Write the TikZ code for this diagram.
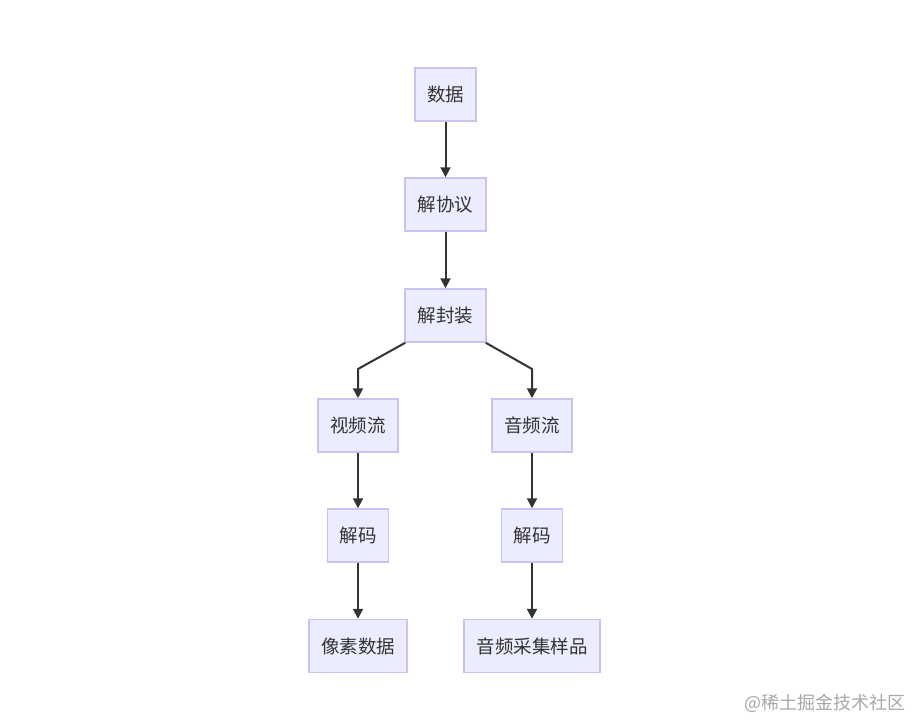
\documentclass[tikz,border=0pt]{standalone}
\usepackage{fontspec}
\setmainfont{Noto Sans CJK SC}
\newfontfamily\cjk{Noto Sans CJK SC}
\usetikzlibrary{arrows.meta}
\definecolor{boxfill}{HTML}{ECECFF}
\definecolor{boxline}{HTML}{C9C3F0}
\definecolor{arrowc}{HTML}{333333}
\definecolor{txt}{HTML}{333333}
\definecolor{wm}{HTML}{A8A8A8}
\tikzset{
  box/.style={draw=boxline, line width=1.5pt, fill=boxfill, minimum height=53pt, inner sep=0pt,
    font=\cjk\fontsize{18.5pt}{21pt}\selectfont, text=txt},
  arr/.style={draw=arrowc, line width=2pt, -{Triangle[length=10pt,width=10pt]}}
}
\begin{document}
\begin{tikzpicture}[x=1pt,y=-1pt]
\useasboundingbox[fill=white] (0,0) rectangle (912,720);
\node[box, minimum width=61pt] (sj) at (445.5,94.5) {数据};
\node[box, minimum width=81pt] (xy) at (445.5,204.5) {解协议};
\node[box, minimum width=81pt] (fz) at (445.5,315.5) {解封装};
\node[box, minimum width=80pt] (sp) at (358,425.5) {视频流};
\node[box, minimum width=80pt] (yp) at (532,425.5) {音频流};
\node[box, minimum width=61pt] (jm1) at (358,535.5) {解码};
\node[box, minimum width=61pt] (jm2) at (532,535.5) {解码};
\node[box, minimum width=98pt] (xs) at (358,646) {像素数据};
\node[box, minimum width=136pt] (yc) at (532,646) {音频采集样品};
\coordinate (bl) at (358,369);
\coordinate (br) at (532,369);
\draw[arr] (sj) -- (xy);
\draw[arr] (xy) -- (fz);
\draw[arr] ([xshift=1pt]fz.south west) -- (bl) -- (sp.north);
\draw[arr] ([xshift=-1pt]fz.south east) -- (br) -- (yp.north);
\draw[arr] (sp) -- (jm1);
\draw[arr] (yp) -- (jm2);
\draw[arr] (jm1) -- (xs);
\draw[arr] (jm2) -- (yc);
\node[font=\cjk\fontsize{18pt}{20pt}\selectfont, text=wm, anchor=east, inner sep=0pt] (wmk) at (906,703) {@稀土掘金技术社区};
\end{tikzpicture}
\end{document}
